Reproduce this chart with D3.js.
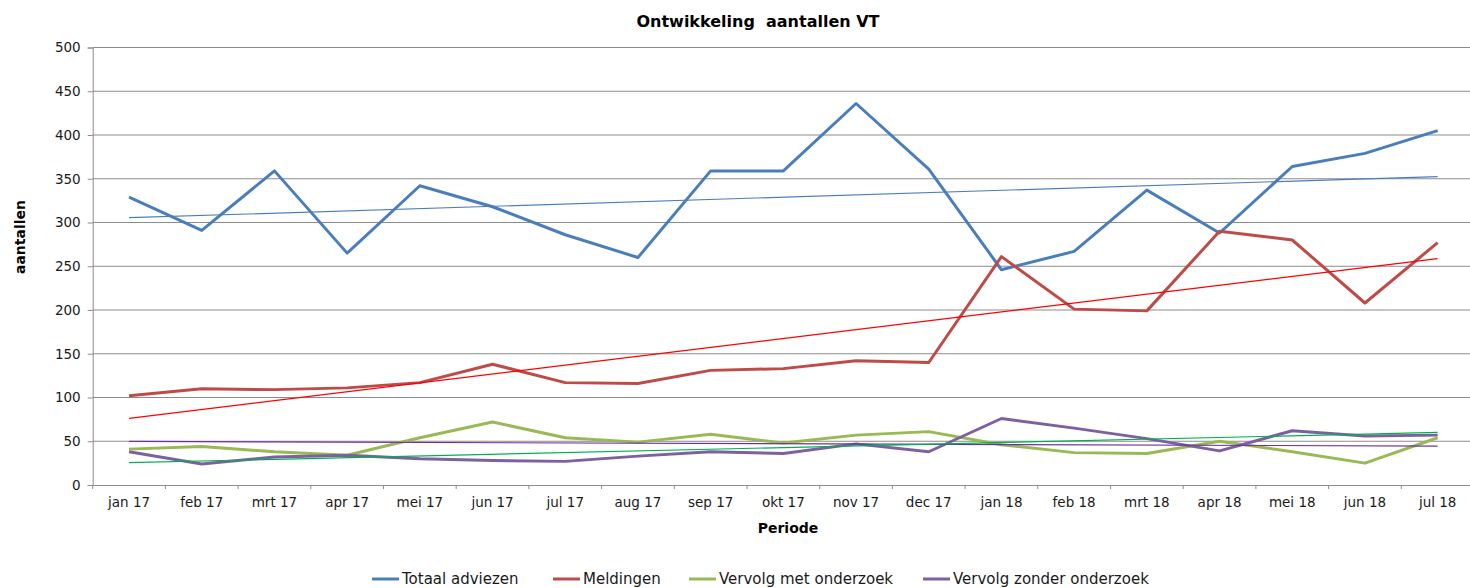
<!DOCTYPE html>
<html><head><meta charset="utf-8">
<script src="https://cdn.jsdelivr.net/npm/d3@7/dist/d3.min.js"></script>
<style>body{margin:0;background:#fff}svg{display:block;font-family:"DejaVu Sans",Verdana,sans-serif}</style>
</head><body><svg id="c" width="1470" height="588"></svg>
<script>
const categories = ["jan 17","feb 17","mrt 17","apr 17","mei 17","jun 17","jul 17","aug 17","sep 17","okt 17","nov 17","dec 17","jan 18","feb 18","mrt 18","apr 18","mei 18","jun 18","jul 18"];
const totaalAdviezen = [329,291,359,265,342,318,286,260,359,359,436,361,246,267,337,288,364,379,405];
const meldingen = [102,110,109,111,117,138,117,116,131,133,142,140,261,201,199,290,280,208,277];
const vervolgMet = [41,44,38,34,54,72,54,49,58,48,57,61,46,37,36,50,38,25,54];
const vervolgZonder = [38,24,32,34,30,28,27,33,38,36,47,38,76,65,53,39,62,56,57];
const yTicks = [0,50,100,150,200,250,300,350,400,450,500];
const seriesNames = ["Totaal adviezen","Meldingen","Vervolg met onderzoek","Vervolg zonder onderzoek"];

(function(){
const series = [
  {name:seriesNames[0], values:totaalAdviezen, color:"#4A7EBB", trend:"#4A7EBB"},
  {name:seriesNames[1], values:meldingen, color:"#BE4B48", trend:"#FF0000"},
  {name:seriesNames[2], values:vervolgMet, color:"#98B954", trend:"#7030A0"},
  {name:seriesNames[3], values:vervolgZonder, color:"#7D60A0", trend:"#00B050"}
];

const svg = d3.select("#c");
const mLeft = 92.7, mRight = 1474, mTop = 47.5, mBottom = 485;
const x = d3.scaleBand().domain(categories).range([mLeft, mRight]).padding(0);
const y = d3.scaleLinear().domain([0,500]).range([mBottom, mTop]);
const cx = d => x(d) + x.bandwidth()/2;

svg.append("g").selectAll("line").data(yTicks.filter(t=>t>0)).join("line")
  .attr("x1", mLeft).attr("x2", mRight).attr("y1", d=>y(d)).attr("y2", d=>y(d))
  .attr("stroke", "#8c8c8c").attr("stroke-width", 1);

const yAxis = svg.append("g").attr("transform", `translate(${mLeft},0)`)
  .call(d3.axisLeft(y).tickValues(yTicks).tickSize(5).tickPadding(7));
yAxis.select(".domain").attr("stroke", "#8c8c8c");
yAxis.selectAll(".tick line").attr("stroke", "#8c8c8c");
yAxis.selectAll("text").attr("font-size", 13.5).attr("fill", "#1a1a1a").attr("font-family", "DejaVu Sans");

const xAxis = svg.append("g").attr("transform", `translate(0,${mBottom})`)
  .call(d3.axisBottom(x).tickSize(0).tickPadding(12));
xAxis.select(".domain").attr("stroke", "#8c8c8c");
xAxis.selectAll("text").attr("font-size", 13.5).attr("fill", "#1a1a1a").attr("font-family", "DejaVu Sans");
svg.append("g").selectAll("line").data(d3.range(categories.length+1)).join("line")
  .attr("x1", i => mLeft + i*x.bandwidth()).attr("x2", i => mLeft + i*x.bandwidth())
  .attr("y1", mBottom).attr("y2", mBottom+4).attr("stroke", "#8c8c8c");

function regression(vals){
  const n = vals.length, xm = (n-1)/2, ym = d3.mean(vals);
  let sxy=0, sxx=0;
  vals.forEach((v,i)=>{sxy+=(i-xm)*(v-ym); sxx+=(i-xm)*(i-xm);});
  const b = sxy/sxx, a = ym - b*xm;
  return [a, a + b*(n-1)];
}
const line = d3.line().x((d,i)=>cx(categories[i])).y(d=>y(d));

series.forEach(s=>{
  svg.append("path").datum(s.values).attr("d", line)
    .attr("fill","none").attr("stroke", s.color).attr("stroke-width", 3).attr("stroke-linejoin","round");
});
series.forEach(s=>{
  const [a,b] = regression(s.values);
  svg.append("line")
    .attr("x1", cx(categories[0])).attr("x2", cx(categories[categories.length-1]))
    .attr("y1", y(a)).attr("y2", y(b))
    .attr("stroke", s.trend).attr("stroke-width", 1.2);
});

svg.append("text").attr("x", 758).attr("y", 27).attr("text-anchor","middle")
  .attr("font-size", 16).attr("font-weight","bold").attr("fill","#000")
  .style("white-space","pre").text("Ontwikkeling  aantallen VT");

svg.append("text").attr("transform","translate(25,237) rotate(-90)").attr("text-anchor","middle")
  .attr("font-size", 14).attr("font-weight","bold").text("aantallen");
svg.append("text").attr("x", 788).attr("y", 533).attr("text-anchor","middle")
  .attr("font-size", 14).attr("font-weight","bold").text("Periode");

const legendX = [372, 553, 689, 923];
const lg = svg.append("g");
series.forEach((s,i)=>{
  lg.append("line").attr("x1", legendX[i]).attr("x2", legendX[i]+27).attr("y1", 579).attr("y2", 579)
    .attr("stroke", s.color).attr("stroke-width", 3);
  lg.append("text").attr("x", legendX[i]+30).attr("y", 584).attr("font-size", 15).attr("fill","#1a1a1a").text(s.name);
});
})();
</script></body></html>
